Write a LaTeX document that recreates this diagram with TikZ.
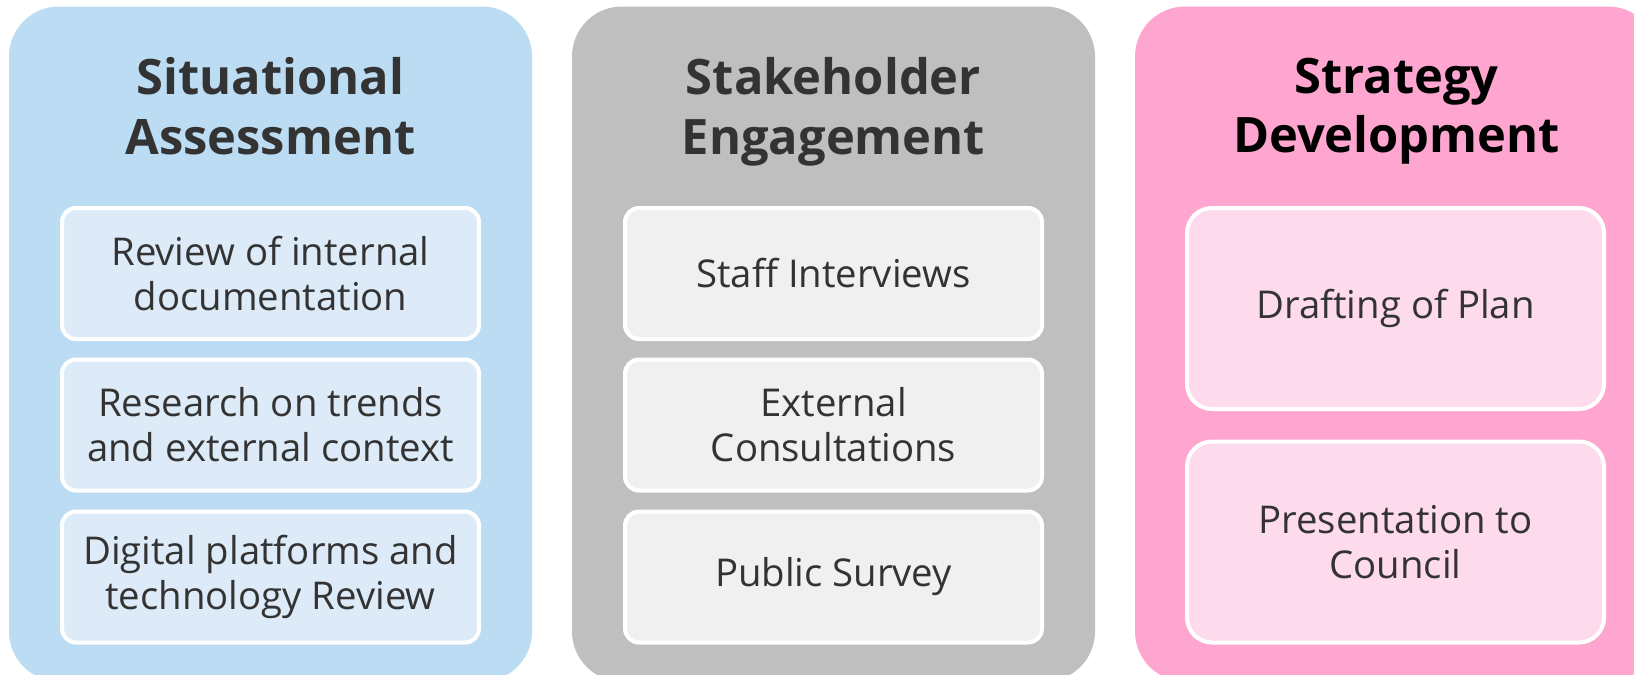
\documentclass[tikz,border=0pt]{standalone}
\usepackage{fontspec}
\setmainfont{Open Sans}
\usepackage{tikz}
\usetikzlibrary{positioning}
\definecolor{assessfill}{HTML}{BCDCF4}
\definecolor{assessbox}{HTML}{DDEBF8}
\definecolor{engagefill}{HTML}{BFBFBF}
\definecolor{engagebox}{HTML}{F0F0F0}
\definecolor{strategyfill}{HTML}{FFA6D0}
\definecolor{strategybox}{HTML}{FDDAEC}
\definecolor{mytextcolor}{HTML}{333333}

\begin{document}
\begin{tikzpicture}[
  panel/.style={rounded corners=1cm, minimum width=10.46cm, minimum height=13.5cm, inner sep=0pt},
  heading/.style={anchor=north, align=center, inner sep=0pt, text=mytextcolor,
    font=\fontsize{27.8}{34}\selectfont\bfseries},
  item/.style={draw=white, line width=0.08cm, rounded corners=0.28cm, minimum width=8.34cm,
    minimum height=2.62cm, inner sep=0pt, align=center, text=mytextcolor,
    font=\fontsize{21.8}{25.5}\selectfont}]
\clip (0,0) rectangle (32.68,-13.48);
\fill[white] (0,0) rectangle (32.68,-13.48);

% three columns
\node[panel, fill=assessfill] (assess) at (5.41,-6.88) {};
\node[panel, fill=engagefill] (engage) at (16.67,-6.88) {};
\node[panel, fill=strategyfill] (strategy) at (27.93,-6.88) {};

\node[heading] (assesstitle) at (5.41,-1.15) {Situational\\Assessment};
\node[heading] (engagetitle) at (16.67,-1.15) {Stakeholder\\Engagement};
\node[heading, text=black] (strategytitle) at (27.93,-1.15) {Strategy\\Development};

% situational assessment
\node[item, fill=assessbox] (review) at (5.41,-5.47) {Review of internal\\documentation};
\node[item, fill=assessbox] (research) at (5.41,-8.50) {Research on trends\\and external context};
\node[item, fill=assessbox] (digital) at (5.41,-11.54) {Digital platforms and\\technology Review};

% stakeholder engagement
\node[item, fill=engagebox] (interviews) at (16.67,-5.47) {Staff Interviews};
\node[item, fill=engagebox] (consult) at (16.67,-8.50) {External\\Consultations};
\node[item, fill=engagebox] (survey) at (16.67,-11.54) {Public Survey};

% strategy development
\node[item, fill=strategybox, rounded corners=0.5cm, minimum height=4.02cm] (drafting) at (27.91,-6.17) {\raisebox{-0.08cm}{Drafting of Plan}};
\node[item, fill=strategybox, rounded corners=0.5cm, minimum height=4.02cm] (council) at (27.91,-10.84) {Presentation to\\Council};
\end{tikzpicture}
\end{document}
